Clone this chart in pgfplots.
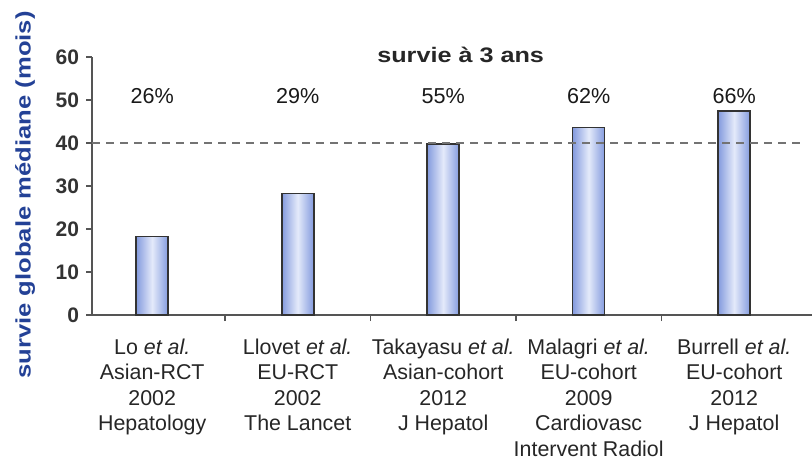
\documentclass[border=0pt]{standalone}
\usepackage{fontspec}
\setmainfont{Liberation Sans}
\newfontfamily\ylabfont[FakeStretch=1.22]{Liberation Sans}
\newfontfamily\titlefont[FakeStretch=1.2]{Liberation Sans}
\usepackage{pgfplots}
\pgfplotsset{compat=1.18}
\definecolor{barEdge}{RGB}{132,155,222}
\definecolor{barMid}{RGB}{228,234,250}
\definecolor{axisGray}{RGB}{85,85,85}
\definecolor{labBlue}{RGB}{35,65,150}
\pgfplotsset{mybar/.style={ybar, bar width=16pt, bar shift=0pt, draw=black!80, line width=0.8pt,
  left color=barEdge, right color=barEdge, middle color=barMid}}
\begin{document}
\begin{tikzpicture}
\begin{axis}[
  scale only axis, width=360pt, height=129pt,
  xmin=-0.414, xmax=4.535, ymin=0, ymax=60,
  axis lines=left,
  axis line style={axisGray, line width=0.8pt, -},
  ytick={0,10,...,60},
  xtick={0.5,1.5,2.5,3.5},
  xticklabels={},
  extra x ticks={0,1,2,3,4},
  extra x tick labels={{Lo \textit{et al.}\\Asian-RCT\\2002\\Hepatology},
    {Llovet \textit{et al.}\\EU-RCT\\2002\\The Lancet},
    {Takayasu \textit{et al.}\\Asian-cohort\\2012\\J Hepatol},
    {Malagri \textit{et al.}\\EU-cohort\\2009\\Cardiovasc\\Intervent Radiol},
    {Burrell \textit{et al.}\\EU-cohort\\2012\\J Hepatol}},
  extra x tick style={major tick length=0pt,
    tick label style={font=\fontsize{10.7}{12.7}\selectfont, align=center, text=black!85, anchor=north, yshift=-8.5pt}},
  tick align=outside,
  major tick length=3pt,
  tick style={axisGray, line width=0.8pt},
  /pgf/number format/assume math mode=true,
  yticklabel style={font=\bfseries\fontsize{10.5}{12}\selectfont, text=black!80},
  ylabel={survie globale médiane (mois)},
  ylabel style={font=\ylabfont\bfseries\fontsize{10.5}{12}\selectfont, text=labBlue,
    at={(axis description cs:-0.093,0.465)}, anchor=center},
  clip=false,
]
\addplot[mybar] coordinates {(0,18.3)};
\addplot[mybar] coordinates {(1,28.3)};
\addplot[mybar] coordinates {(2,39.8)};
\addplot[mybar] coordinates {(3,43.6)};
\addplot[mybar] coordinates {(4,47.4)};
\addplot[draw=black!55, line width=0.8pt, dash pattern=on 4pt off 3pt]
  coordinates {(-0.414,40) (4.47,40)};
\node[font=\fontsize{10.8}{12}\selectfont, text=black!90] at (axis cs:0,51) {26\%};
\node[font=\fontsize{10.8}{12}\selectfont, text=black!90] at (axis cs:1,51) {29\%};
\node[font=\fontsize{10.8}{12}\selectfont, text=black!90] at (axis cs:2,51) {55\%};
\node[font=\fontsize{10.8}{12}\selectfont, text=black!90] at (axis cs:3,51) {62\%};
\node[font=\fontsize{10.8}{12}\selectfont, text=black!90] at (axis cs:4,51) {66\%};
\node[font=\titlefont\bfseries\fontsize{10.5}{12}\selectfont, text=black!85] at (axis cs:2.12,60.6) {survie à 3 ans};
\end{axis}
\pgfresetboundingbox
\useasboundingbox (-46pt,-73pt) rectangle (360pt,157.5pt);
\end{tikzpicture}
\end{document}
